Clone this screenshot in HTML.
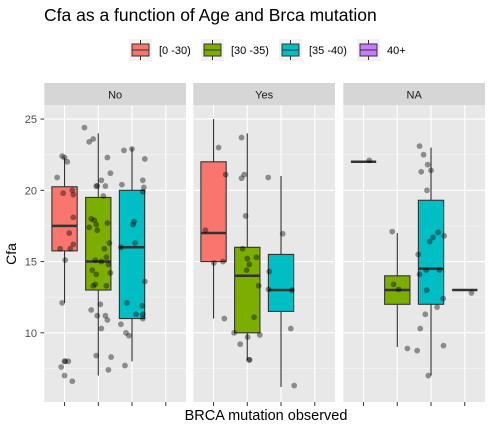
<!DOCTYPE html>
<html><head><meta charset="utf-8"><style>
html,body{margin:0;padding:0;background:#fff;}
svg text{font-family:"Liberation Sans",Arial,sans-serif;}
</style></head><body>
<svg id="chart" width="492" height="431" xmlns="http://www.w3.org/2000/svg">
<text x="44" y="21" font-size="17.5" fill="#000">Cfa as a function of Age and Brca mutation</text>
<g id="legend"></g>
<g id="panels"></g>
<text x="266" y="420" font-size="14.5" text-anchor="middle" fill="#000">BRCA mutation observed</text>
<text transform="translate(16,254) rotate(-90)" font-size="14" text-anchor="middle" fill="#000">Cfa</text>
</svg>
<script>
const facets = ["No","Yes","NA"];
const groups = ["[0 -30)","[30 -35)","[35 -40)","40+"];
const colors = ["#F8766D","#7CAE00","#00BFC4","#C77CFF"];
const yTicks = [10,15,20,25];
// box stats per facet: [group, lowerWhisker, q1, median, q3, upperWhisker]
const boxesNo  = [[0,12.1,15.75,17.5,20.25,22.3],[1,7,13,15,19.5,24],[2,8,11,16,20,23]];
const boxesYes = [[0,11,15,17,22,25],[1,8.1,10,14,16,24],[2,6.2,11.5,13,15.5,21]];
const boxesNA  = [[0,22,22,22,22,22],[1,9,12,13,14,17],[2,7,12,14.5,19.3,23],[3,13,13,13,13,13]];
// points: [group, jitter (category units), value]
const pointsNo = [[0,-0.07,22.4],[0,0,22.3],[0,0.08,22],[0,-0.22,20.9],[0,-0.04,19.8],[0,0.23,20],[0,0.26,19.7],[0,0.26,18.1],[0,0.14,17],[0,-0.13,15.9],[0,0.17,15.9],[0,0.02,15.1],[0,0.26,16.2],[0,-0.07,12.1],[0,0,8],[0,0.02,8],[0,0.11,8],[0,-0.1,7.6],[0,0,7],[0,0.23,6.6],
[1,-0.41,24.4],[1,-0.27,23.4],[1,-0.15,23.6],[1,0.27,22.3],[1,0.36,21.2],[1,0.09,20.7],[1,-0.06,20.3],[1,-0.03,20.3],[1,0.21,20.3],[1,0.15,19.6],[1,-0.21,18],[1,-0.27,17.4],[1,-0.12,17.9],[1,-0.06,17.6],[1,-0.03,17.2],[1,0.27,17.7],[1,0.33,16.3],[1,0.18,15.9],[1,-0.09,15.1],[1,0.09,15],[1,0.24,15.3],[1,0.3,14.8],[1,-0.18,14.4],[1,-0.06,14.1],[1,0.36,14.2],[1,-0.09,13.4],[1,-0.15,13.3],[1,0.24,13.3],[1,-0.21,11.6],[1,-0.03,11.2],[1,0.21,11.2],[1,0.27,10.9],[1,0.09,10.3],[1,-0.06,8.4],[1,0.38,8.3],[1,0.3,7.4],[1,0.06,12],
[2,-0.24,22.8],[2,0,22.9],[2,0.38,22.2],[2,0.32,20.7],[2,0.35,20.2],[2,-0.3,20.4],[2,0.32,19.9],[2,-0.33,16],[2,0.03,17.6],[2,0.06,17.8],[2,0.09,16.3],[2,-0.15,12.1],[2,0.12,11.3],[2,0.3,11.9],[2,0.32,11.3],[2,0.32,11],[2,0.38,13.6],[2,-0.33,10.6],[2,-0.18,10],[2,-0.09,9.8],[2,-0.21,7.7]];
const pointsYes = [[0,0.15,23],[0,0.36,21.1],[0,-0.24,17.2],[0,0.01,14.9],[0,0.28,15],[0,0.32,11],
[1,-0.17,23.7],[1,-0.17,20.85],[1,-0.09,21.1],[1,-0.05,18.2],[1,-0.14,15.9],[1,0,15.2],[1,0.06,14.8],[1,-0.02,14.4],[1,0.27,15.3],[1,0.34,13.3],[1,0.2,11.1],[1,-0.39,10],[1,0.01,9.7],[1,0.37,9.85],[1,-0.21,9.2],[1,0.05,8.1],[1,0.07,8.1],
[2,-0.38,20.9],[2,0.05,16.95],[2,-0.35,14.3],[2,-0.37,13.05],[2,0.32,13],[2,0.29,10.3],[2,0.39,6.3]];
const pointsNA = [[0,0.17,22.1],
[1,-0.15,17.1],[1,-0.11,13.4],[1,0.04,13.05],[1,0.3,8.9],[1,0.59,8.75],
[2,-0.34,23.1],[2,-0.22,22.5],[2,-0.1,21.8],[2,-0.29,21.3],[2,0,21.4],[2,-0.12,20],[2,0.21,17.05],[2,0.06,16.7],[2,-0.04,16.4],[2,0.39,16.8],[2,-0.38,15.5],[2,-0.34,14.1],[2,-0.14,14.4],[2,0.25,14.4],[2,-0.13,13],[2,0.36,12.4],[2,0.18,11.8],[2,-0.17,11.3],[2,-0.32,10.3],[2,0.37,9.1],[2,-0.08,7],
[3,0.2,12.8]];
const boxData = [boxesNo,boxesYes,boxesNA];
const pointData = [pointsNo,pointsYes,pointsNA];

const NS="http://www.w3.org/2000/svg";
function mk(tag,attrs,parent){const e=document.createElementNS(NS,tag);for(const k in attrs)e.setAttribute(k,attrs[k]);parent.appendChild(e);return e;}
const panelX=[44.3,193.3,343.3], panelW=141.7, panelTop=105, panelBot=402, stripTop=83;
const yScale=v=>190.3-(v-20)*14.25;
const unit=panelW/4.2;
const xScale=(p,g)=>panelX[p]+(g+1-0.4)*unit;
const root=document.getElementById('panels');

yTicks.forEach(t=>{
  const y=yScale(t);
  const tk=mk('line',{x1:40.5,x2:44.3,y1:y,y2:y,stroke:'#333','stroke-width':1},root);
  
  
  const lb=mk('text',{x:37,y:y+4,'font-size':11,fill:'#4d4d4d','text-anchor':'end'},root);
  lb.textContent=t;
  
  
});

facets.forEach((f,p)=>{
  const g=mk('g',{},root);
  
  
  const x0=panelX[p];
  const strip=mk('rect',{x:x0,y:stripTop,width:panelW,height:panelTop-stripTop,fill:'#D6D6D6'},g);
  
  
  const st=mk('text',{x:x0+panelW/2,y:98.5,'font-size':11,'text-anchor':'middle',fill:'#1a1a1a'},g);
  st.textContent=f;
  
  
  const bg=mk('rect',{x:x0,y:panelTop,width:panelW,height:panelBot-panelTop,fill:'#E8E8E8'},g);
  
  
  [7.5,12.5,17.5,22.5].forEach(v=>{const y=yScale(v);mk('line',{x1:x0,x2:x0+panelW,y1:y,y2:y,stroke:'#F4F4F4','stroke-width':0.6},g);});
  yTicks.forEach(v=>{const y=yScale(v);mk('line',{x1:x0,x2:x0+panelW,y1:y,y2:y,stroke:'#fff','stroke-width':1.1},g);});
  groups.forEach((gr,i)=>{
    const x=xScale(p,i);
    mk('line',{x1:x,x2:x,y1:panelTop,y2:panelBot,stroke:'#fff','stroke-width':1.1},g);
    const tk=mk('line',{x1:x,x2:x,y1:panelBot,y2:panelBot+4,stroke:'#333','stroke-width':1},g);
    
    
  });
  const bw=0.75*unit;
  boxData[p].forEach(b=>{
    const [gi,lw,q1,md,q3,uw]=b;
    const x=xScale(p,gi);
    const bx=mk('g',{},g);
    
    
    mk('line',{x1:x,x2:x,y1:yScale(uw),y2:yScale(q3),stroke:'#333','stroke-width':1.1},bx);
    mk('line',{x1:x,x2:x,y1:yScale(q1),y2:yScale(lw),stroke:'#333','stroke-width':1.1},bx);
    if(q3>q1) mk('rect',{x:x-bw/2,y:yScale(q3),width:bw,height:yScale(q1)-yScale(q3),fill:colors[gi],stroke:'#333','stroke-width':1.1},bx);
    mk('line',{x1:x-bw/2,x2:x+bw/2,y1:yScale(md),y2:yScale(md),stroke:'#333','stroke-width':2.5},bx);
  });
  pointData[p].forEach(pt=>{
    const c=mk('circle',{cx:xScale(p,pt[0])+pt[1]*unit,cy:yScale(pt[2]),r:2.9,fill:'#000','fill-opacity':0.4},g);
    
    
  });
});

const lg=document.getElementById('legend');
const keyX=[129,201,279,357];
groups.forEach((gr,i)=>{
  const k=mk('g',{},lg);
  
  
  const x=keyX[i];
  mk('rect',{x:x,y:39,width:23,height:22,fill:'#F2F2F2'},k);
  mk('line',{x1:x+11.5,x2:x+11.5,y1:40,y2:60,stroke:'#333','stroke-width':1},k);
  mk('rect',{x:x+3,y:44,width:17,height:12,fill:colors[i],stroke:'#333','stroke-width':1},k);
  mk('line',{x1:x+3,x2:x+20,y1:50,y2:50,stroke:'#333','stroke-width':1},k);
  const t=mk('text',{x:x+30,y:54,'font-size':11,fill:'#000'},k);
  t.textContent=gr;
});
</script>
</body></html>
